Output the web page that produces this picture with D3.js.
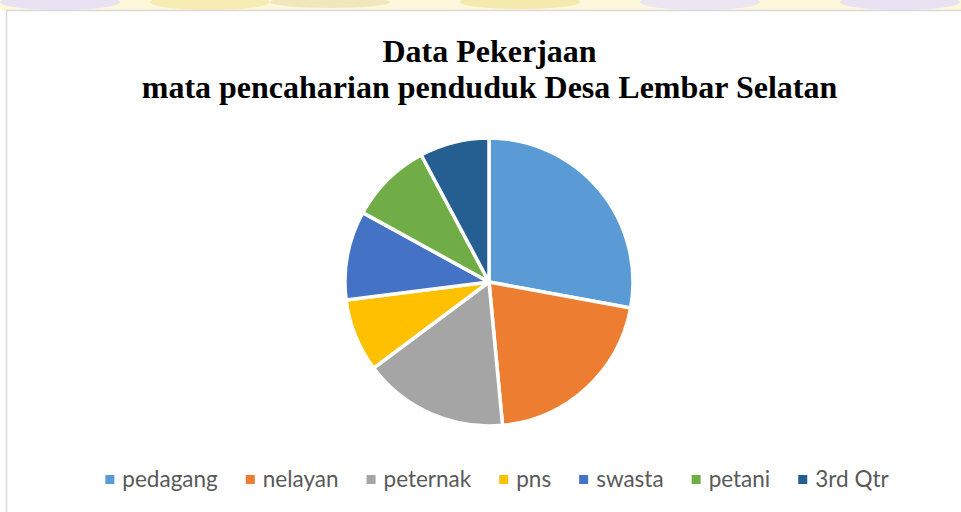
<!DOCTYPE html>
<html>
<head>
<meta charset="utf-8">
<title>Data Pekerjaan</title>
<script src="https://d3js.org/d3.v7.min.js"></script>
<style>
  html, body { margin: 0; padding: 0; background: #fff; }
  svg { display: block; }
</style>
</head>
<body>
<script>
// data
var categories = ["pedagang", "nelayan", "peternak", "pns", "swasta", "petani", "3rd Qtr"];
var values = [27.9, 20.6, 16.3, 8.2, 10.0, 9.2, 7.8];
var colors = ["#5B9BD5", "#ED7D31", "#A5A5A5", "#FFC000", "#4472C4", "#70AD47", "#255E91"];
var titleLines = ["Data Pekerjaan", "mata pencaharian penduduk Desa Lembar Selatan"];

var width = 961, height = 512;

var svg = d3.select("body").append("svg")
    .attr("width", width)
    .attr("height", height);

// faint watermark strip at the very top
var wm = svg.append("g");
wm.append("rect").attr("x", 0).attr("y", 0).attr("width", width).attr("height", 10)
  .attr("fill", "#fdf8dc");
[[60, 8, "#e9e2f2"], [210, 8, "#f7ecb4"], [330, 6, "#f1e7bc"], [520, 7, "#f5eaae"],
 [700, 8, "#ece5f2"], [900, 8, "#e9e2f2"]].forEach(function (b) {
  wm.append("ellipse").attr("cx", b[0]).attr("cy", 2).attr("rx", 60).attr("ry", b[1])
    .attr("fill", b[2]);
});

// chart area border
svg.append("rect")
    .attr("x", 6.5).attr("y", 10.5)
    .attr("width", 970).attr("height", 520)
    .attr("fill", "#fff")
    .attr("stroke", "#d9d9d9")
    .attr("stroke-width", 1.5);

// title
var title = svg.append("text")
    .attr("text-anchor", "middle")
    .attr("font-family", "'Liberation Serif', 'Times New Roman', serif")
    .attr("font-weight", "bold")
    .attr("font-size", 32)
    .attr("fill", "#000");
title.selectAll("tspan").data(titleLines).enter().append("tspan")
    .attr("x", 489.5)
    .attr("y", function (d, i) { return 62 + i * 36; })
    .text(function (d) { return d; });

// pie
var cx = 489, cy = 282, r = 144;
var pie = d3.pie().sort(null).value(function (d) { return d; });
var arc = d3.arc().innerRadius(0).outerRadius(r);

svg.append("g")
    .attr("transform", "translate(" + cx + "," + cy + ")")
  .selectAll("path")
    .data(pie(values))
    .enter().append("path")
    .attr("d", arc)
    .attr("fill", function (d, i) { return colors[i]; })
    .attr("stroke", "#fff")
    .attr("stroke-width", 3.5)
    .attr("stroke-linejoin", "round");

// legend
var legend = svg.append("g");
var items = legend.selectAll("g")
    .data(categories)
    .enter().append("g");
items.append("rect")
    .attr("width", 9).attr("height", 9)
    .attr("y", -12)
    .attr("fill", function (d, i) { return colors[i]; });
var labels = items.append("text")
    .attr("x", 17)
    .attr("font-family", "Lato, 'Open Sans', sans-serif")
    .attr("font-size", 22.5)
    .attr("fill", "#595959")
    .text(function (d) { return d; });

var gap = 28, xpos = 0, offsets = [];
labels.each(function () {
  offsets.push(xpos);
  xpos += 17 + this.getComputedTextLength() + gap;
});
var total = xpos - gap;
var start = 497 - total / 2;
items.attr("transform", function (d, i) { return "translate(" + (start + offsets[i]) + ",487)"; });
</script>
</body>
</html>
